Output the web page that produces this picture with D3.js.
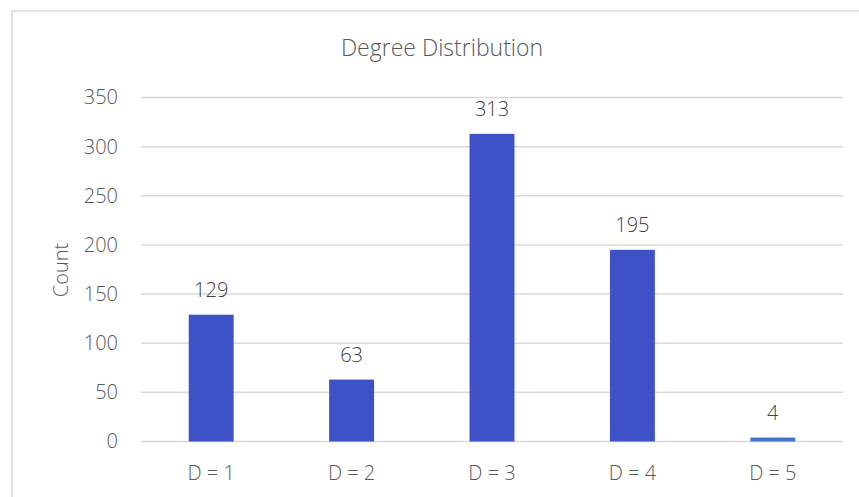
<!DOCTYPE html>
<html>
<head>
<meta charset="utf-8">
<script src="https://cdn.jsdelivr.net/npm/d3@7"></script>
<style>
  html, body { margin: 0; padding: 0; background: #fff; }
  svg { display: block; font-family: "Open Sans", "Noto Sans", sans-serif; font-weight: 300; }
</style>
</head>
<body>
<svg id="chart" width="859" height="497"></svg>
<script>
// Degree distribution data
const categories = ["D = 1", "D = 2", "D = 3", "D = 4", "D = 5"];
const counts = [129, 63, 313, 195, 4];
const yTicks = [0, 50, 100, 150, 200, 250, 300, 350];
const barColors = ["#3f51c6", "#3f51c6", "#3f51c6", "#3f51c6", "#4472c4"];

const svg = d3.select("#chart");
const W = 859, H = 497;
const plot = { left: 141, right: 843, top: 97.5, bottom: 441.5 };

// chart frame (left and top edges visible)
svg.append("path")
  .attr("d", `M12,${H + 2}V11H${W + 2}`)
  .attr("fill", "none")
  .attr("stroke", "#d9d9d9")
  .attr("stroke-width", 1.5);

const x = d3.scaleBand()
  .domain(categories)
  .range([plot.left, plot.right])
  .paddingInner(0.68)
  .paddingOuter(0.34);

const y = d3.scaleLinear()
  .domain([0, 350])
  .range([plot.bottom, plot.top]);

// horizontal gridlines
svg.append("g")
  .selectAll("line")
  .data(yTicks)
  .join("line")
  .attr("x1", plot.left)
  .attr("x2", plot.right)
  .attr("y1", d => y(d))
  .attr("y2", d => y(d))
  .attr("stroke", "#d9d9d9")
  .attr("stroke-width", 1.5);

// y axis tick labels
const yAxis = d3.axisLeft(y).tickValues(yTicks).tickSize(0).tickPadding(0);
const gy = svg.append("g")
  .attr("transform", "translate(118,0)")
  .call(yAxis);
gy.select(".domain").remove();
gy.selectAll("text")
  .attr("fill", "#595959")
  .attr("font-size", 20)
  .attr("font-weight", 300)
  .attr("font-family", "Open Sans, Noto Sans, sans-serif");

// bars
svg.append("g")
  .selectAll("rect")
  .data(counts)
  .join("rect")
  .attr("x", (d, i) => x(categories[i]))
  .attr("width", x.bandwidth())
  .attr("y", d => y(d))
  .attr("height", d => y(0) - y(d))
  .attr("fill", (d, i) => barColors[i]);

// value labels
svg.append("g")
  .selectAll("text")
  .data(counts)
  .join("text")
  .attr("x", (d, i) => x(categories[i]) + x.bandwidth() / 2)
  .attr("y", d => y(d) - 18)
  .attr("text-anchor", "middle")
  .attr("fill", "#404040")
  .attr("font-size", 20)
  .text(d => d);

// x axis category labels
const xAxis = d3.axisBottom(x).tickSize(0).tickPadding(0);
const gx = svg.append("g")
  .attr("transform", "translate(0,466)")
  .call(xAxis);
gx.select(".domain").remove();
gx.selectAll("text")
  .attr("fill", "#595959")
  .attr("font-size", 20)
  .attr("font-weight", 300)
  .attr("font-family", "Open Sans, Noto Sans, sans-serif");

// axis title
svg.append("text")
  .attr("transform", "translate(68,270) rotate(-90)")
  .attr("text-anchor", "middle")
  .attr("fill", "#595959")
  .attr("font-size", 20)
  .text("Count");

// chart title
svg.append("text")
  .attr("x", 442)
  .attr("y", 56)
  .attr("text-anchor", "middle")
  .attr("fill", "#595959")
  .attr("font-size", 23)
  .text("Degree Distribution");
</script>
</body>
</html>
